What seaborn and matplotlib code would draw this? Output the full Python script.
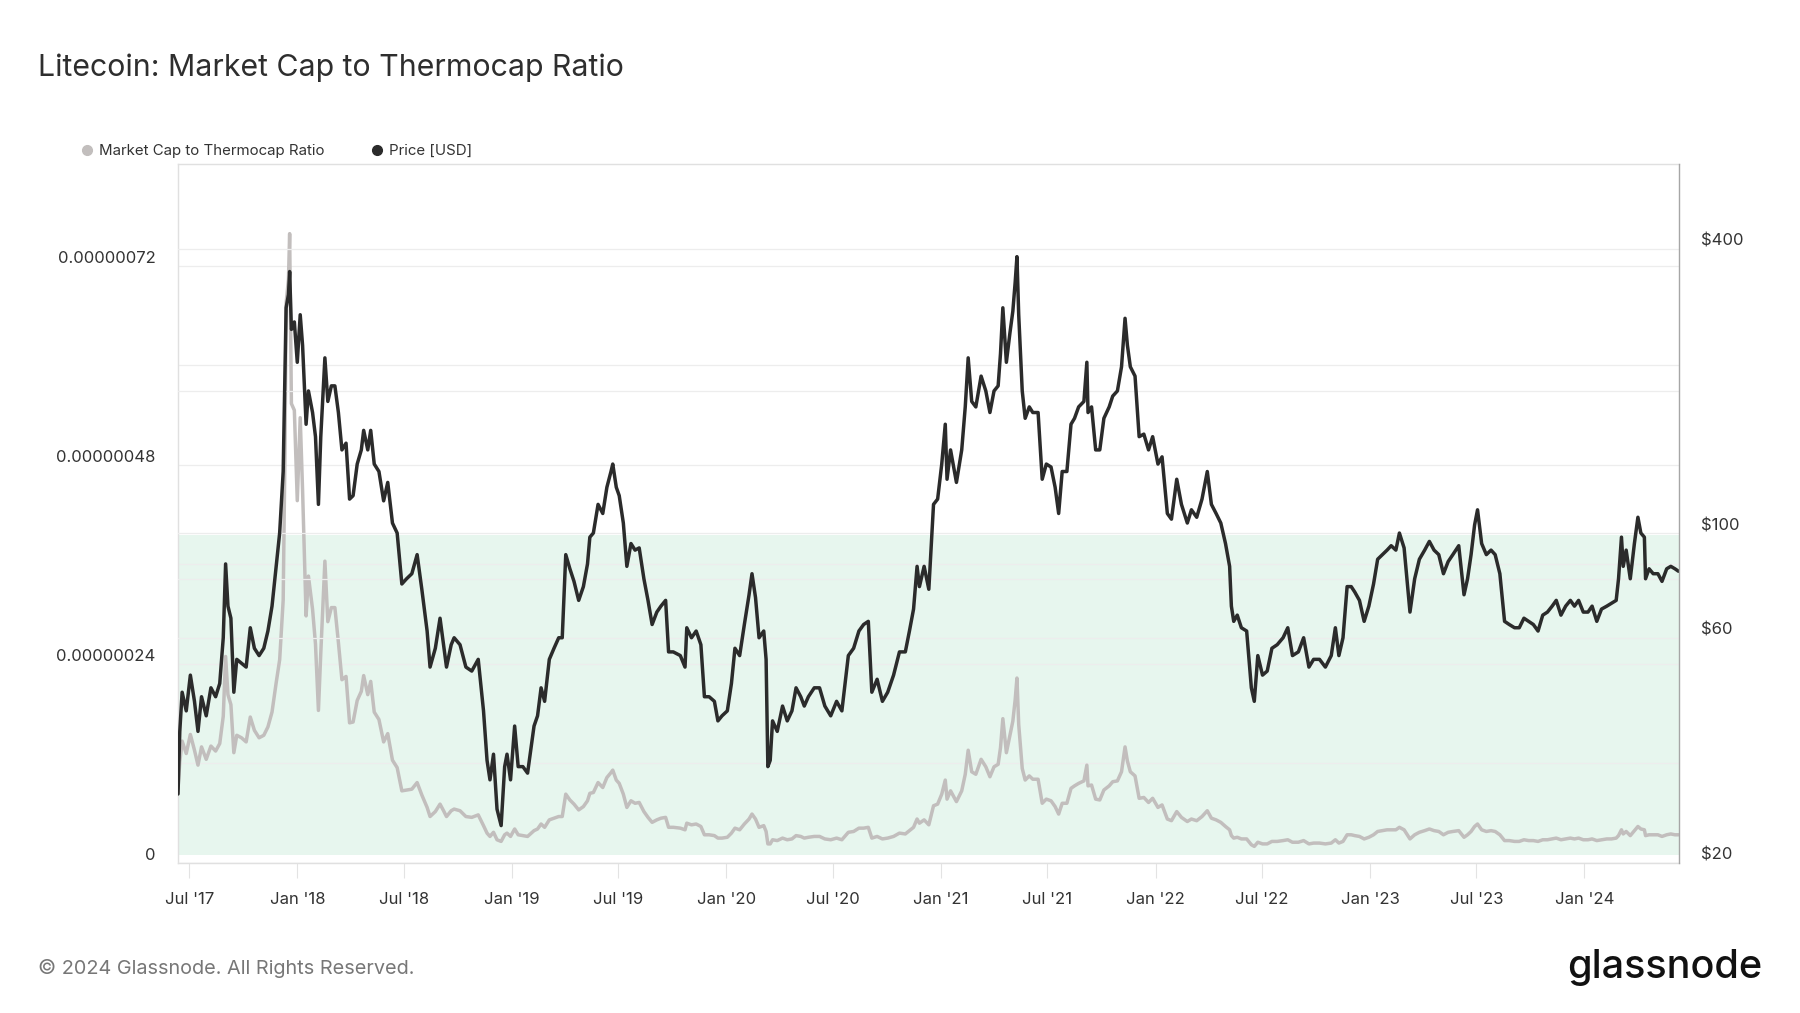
import matplotlib
matplotlib.use("Agg")
import matplotlib.pyplot as plt
import matplotlib.dates as mdates
from matplotlib.lines import Line2D
from matplotlib.ticker import NullLocator
import numpy as np
import pandas as pd
import seaborn as sns

DATES = [
    "2017-06-12", "2017-06-15", "2017-06-19", "2017-06-26",
    "2017-07-03", "2017-07-10", "2017-07-16", "2017-07-22", "2017-07-30",
    "2017-08-07", "2017-08-15", "2017-08-22", "2017-08-28",
    "2017-09-01", "2017-09-05", "2017-09-10", "2017-09-15", "2017-09-20", "2017-09-28",
    "2017-10-06", "2017-10-13", "2017-10-20", "2017-10-28",
    "2017-11-05", "2017-11-12", "2017-11-19", "2017-11-26",
    "2017-12-02", "2017-12-08", "2017-12-11", "2017-12-13", "2017-12-17", "2017-12-19", "2017-12-22", "2017-12-27",
    "2018-01-01", "2018-01-06", "2018-01-10", "2018-01-16", "2018-01-20", "2018-01-27",
    "2018-02-01", "2018-02-06", "2018-02-10", "2018-02-17", "2018-02-22", "2018-02-28",
    "2018-03-06", "2018-03-12", "2018-03-18", "2018-03-25", "2018-03-31",
    "2018-04-06", "2018-04-13", "2018-04-20", "2018-04-24",
    "2018-05-01", "2018-05-06", "2018-05-12", "2018-05-20", "2018-05-28",
    "2018-06-04", "2018-06-12", "2018-06-20", "2018-06-28",
    "2018-07-06", "2018-07-15", "2018-07-24",
    "2018-08-01", "2018-08-10", "2018-08-15", "2018-08-24",
    "2018-09-01", "2018-09-07", "2018-09-12", "2018-09-20", "2018-09-25",
    "2018-10-05", "2018-10-15", "2018-10-25",
    "2018-11-05", "2018-11-14", "2018-11-20", "2018-11-25",
    "2018-12-01", "2018-12-07", "2018-12-14", "2018-12-20", "2018-12-24", "2018-12-30",
    "2019-01-06", "2019-01-12", "2019-01-20", "2019-01-28",
    "2019-02-08", "2019-02-14", "2019-02-20", "2019-02-26",
    "2019-03-06", "2019-03-14", "2019-03-22", "2019-03-28",
    "2019-04-03", "2019-04-10", "2019-04-17", "2019-04-25",
    "2019-05-03", "2019-05-10", "2019-05-14", "2019-05-20", "2019-05-28",
    "2019-06-05", "2019-06-12", "2019-06-19", "2019-06-22", "2019-06-28",
    "2019-07-03", "2019-07-10", "2019-07-16", "2019-07-23", "2019-07-30",
    "2019-08-06", "2019-08-14", "2019-08-21", "2019-08-28",
    "2019-09-05", "2019-09-12", "2019-09-20", "2019-09-25",
    "2019-10-03", "2019-10-15", "2019-10-23", "2019-10-26",
    "2019-11-03", "2019-11-11", "2019-11-19", "2019-11-25",
    "2019-12-03", "2019-12-12", "2019-12-18", "2019-12-25",
    "2020-01-03", "2020-01-10", "2020-01-16", "2020-01-24",
    "2020-02-01", "2020-02-09", "2020-02-14", "2020-02-20", "2020-02-26",
    "2020-03-05", "2020-03-09", "2020-03-12", "2020-03-16", "2020-03-20", "2020-03-28",
    "2020-04-06", "2020-04-14", "2020-04-22", "2020-04-29",
    "2020-05-07", "2020-05-13", "2020-05-20", "2020-05-30",
    "2020-06-08", "2020-06-17", "2020-06-27",
    "2020-07-07", "2020-07-16", "2020-07-27",
    "2020-08-05", "2020-08-14", "2020-08-22", "2020-08-30",
    "2020-09-05", "2020-09-14", "2020-09-23",
    "2020-10-02", "2020-10-12", "2020-10-22",
    "2020-11-01", "2020-11-08", "2020-11-15", "2020-11-21", "2020-11-25",
    "2020-12-03", "2020-12-11", "2020-12-19", "2020-12-26",
    "2021-01-02", "2021-01-08", "2021-01-11", "2021-01-17", "2021-01-27",
    "2021-02-05", "2021-02-11", "2021-02-16", "2021-02-22",
    "2021-03-01", "2021-03-10", "2021-03-18", "2021-03-25",
    "2021-04-01", "2021-04-08", "2021-04-12", "2021-04-16", "2021-04-22", "2021-04-28",
    "2021-05-03", "2021-05-07", "2021-05-10", "2021-05-13", "2021-05-19", "2021-05-24", "2021-05-31",
    "2021-06-06", "2021-06-15", "2021-06-22", "2021-06-29",
    "2021-07-07", "2021-07-14", "2021-07-20", "2021-07-26",
    "2021-08-03", "2021-08-10", "2021-08-16", "2021-08-23",
    "2021-09-01", "2021-09-06", "2021-09-08", "2021-09-14", "2021-09-21", "2021-09-28",
    "2021-10-05", "2021-10-14", "2021-10-20", "2021-10-28",
    "2021-11-04", "2021-11-10", "2021-11-14", "2021-11-19", "2021-11-27",
    "2021-12-04", "2021-12-12", "2021-12-20", "2021-12-27",
    "2022-01-05", "2022-01-12", "2022-01-21", "2022-01-28",
    "2022-02-06", "2022-02-14", "2022-02-24",
    "2022-03-03", "2022-03-12", "2022-03-21", "2022-03-30",
    "2022-04-06", "2022-04-14", "2022-04-22", "2022-04-30",
    "2022-05-07", "2022-05-10", "2022-05-14", "2022-05-20", "2022-05-27",
    "2022-06-05", "2022-06-13", "2022-06-18", "2022-06-24",
    "2022-07-02", "2022-07-10", "2022-07-18", "2022-07-27",
    "2022-08-06", "2022-08-14", "2022-08-22",
    "2022-09-01", "2022-09-10", "2022-09-19", "2022-09-27",
    "2022-10-07", "2022-10-17", "2022-10-27",
    "2022-11-03", "2022-11-09", "2022-11-16", "2022-11-23", "2022-11-30",
    "2022-12-06", "2022-12-14", "2022-12-22", "2022-12-30",
    "2023-01-07", "2023-01-14", "2023-01-22", "2023-01-30",
    "2023-02-06", "2023-02-14", "2023-02-20", "2023-02-28",
    "2023-03-10", "2023-03-18", "2023-03-26",
    "2023-04-04", "2023-04-12", "2023-04-20", "2023-04-28",
    "2023-05-06", "2023-05-14", "2023-05-22",
    "2023-06-01", "2023-06-10", "2023-06-16", "2023-06-22", "2023-06-28",
    "2023-07-03", "2023-07-10", "2023-07-18", "2023-07-26",
    "2023-08-02", "2023-08-10", "2023-08-18", "2023-08-26",
    "2023-09-04", "2023-09-12", "2023-09-20", "2023-09-28",
    "2023-10-06", "2023-10-14", "2023-10-22", "2023-10-30",
    "2023-11-07", "2023-11-14", "2023-11-22", "2023-11-30",
    "2023-12-08", "2023-12-15", "2023-12-22", "2023-12-30",
    "2024-01-07", "2024-01-14", "2024-01-22", "2024-01-30",
    "2024-02-08", "2024-02-16", "2024-02-24", "2024-02-28",
    "2024-03-04", "2024-03-07", "2024-03-12", "2024-03-19", "2024-03-26",
    "2024-04-01", "2024-04-06", "2024-04-12", "2024-04-14", "2024-04-20", "2024-04-27",
    "2024-05-05", "2024-05-12", "2024-05-20", "2024-05-27",
    "2024-06-03", "2024-06-09",
]

PRICE_USD = [
    28, 38, 46, 42,
    50, 44, 38, 45, 41,
    47, 45, 48, 60,
    86, 70, 66, 46, 54, 53,
    52, 63, 57, 55,
    57, 62, 70, 85,
    100, 135, 215, 300, 320, 358, 270, 280,
    230, 290, 250, 170, 200, 180,
    160, 115, 160, 235, 190, 205,
    205, 180, 150, 155, 118,
    120, 140, 150, 165,
    150, 165, 140, 135, 117,
    128, 105, 100, 78,
    80, 82, 90,
    76, 62, 52, 57,
    66, 58, 52, 58, 60,
    58, 52, 51,
    54, 42, 33, 30,
    34, 26, 24, 32, 34, 30,
    39, 32, 32, 31,
    39, 41, 47, 44,
    54, 57, 60, 60,
    90, 84, 79, 72,
    77, 86, 98, 100, 115,
    110, 125, 135, 140, 125,
    120, 105, 85, 95, 92,
    93, 80, 72, 64,
    68, 70, 72, 56,
    56, 55, 52, 63,
    60, 62, 58, 45,
    45, 44, 40, 41,
    42, 48, 57, 55,
    64, 74, 82, 73, 60,
    62, 54, 32, 33, 40, 38,
    43, 40, 42, 47,
    45, 43, 45, 47,
    47, 43, 41,
    44, 42, 55,
    57, 62, 64, 65,
    46, 49, 44,
    46, 50, 56,
    56, 62, 69, 85, 77,
    85, 76, 115, 118,
    140, 170, 130, 150, 128,
    150, 185, 235, 190,
    185, 215, 200, 180,
    200, 205, 240, 300, 230, 265,
    295, 340, 385, 290, 200, 175, 185,
    180, 180, 130, 140,
    138, 125, 110, 135,
    135, 170, 175, 185,
    190, 230, 180, 185, 150, 150,
    175, 185, 195, 200,
    225, 285, 250, 225, 215,
    160, 162, 150, 160,
    140, 145, 110, 107,
    130, 115, 105,
    112, 108, 118, 135,
    115, 110, 105, 95,
    85, 70, 65, 67, 63,
    62, 47, 44, 55,
    50, 51, 57, 58,
    60, 63, 55,
    56, 60, 52, 54,
    54, 52, 55,
    63, 55, 60, 77, 77,
    75, 72, 65, 70,
    78, 88, 90, 92,
    94, 92, 100, 93,
    68, 80, 88,
    92, 96, 92, 90,
    82, 87, 90,
    94, 74, 80, 90, 104,
    112, 95, 90, 92,
    90, 82, 65, 64,
    63, 63, 66, 65,
    64, 62, 67, 68,
    70, 72, 67, 70,
    72, 70, 72, 68,
    68, 70, 65, 69,
    70, 71, 72, 80,
    98, 85, 92, 80, 95,
    108, 100, 98, 80, 84, 82,
    82, 79, 84, 85,
    84, 83,
]

# market cap / thermocap, in units of 1e-9
RATIO_E9 = [
    90, 122, 147, 132,
    155, 136, 118, 140, 125,
    141, 135, 144, 177,
    249, 203, 191, 133, 154, 151,
    146, 176, 160, 151,
    154, 164, 182, 217,
    245, 317, 495, 675, 704, 759, 554, 546,
    437, 537, 450, 298, 346, 306,
    264, 184, 253, 364, 291, 308,
    308, 266, 221, 225, 169,
    170, 196, 207, 226,
    203, 219, 182, 173, 146,
    156, 124, 115, 87,
    88, 89, 97,
    82, 67, 56, 62,
    71, 63, 56, 63, 65,
    63, 56, 55,
    58, 45, 36, 32,
    37, 28, 26, 34, 36, 32,
    41, 34, 33, 32,
    39, 41, 47, 43,
    52, 54, 56, 56,
    83, 76, 71, 64,
    68, 75, 84, 85, 97,
    91, 103, 109, 112, 100,
    96, 83, 67, 75, 72,
    73, 62, 55, 49,
    52, 54, 55, 43,
    43, 42, 40, 48,
    46, 47, 44, 34,
    34, 33, 30, 30,
    31, 36, 42, 40,
    47, 53, 59, 53, 43,
    45, 38, 23, 23, 28, 27,
    30, 28, 29, 33,
    32, 30, 31, 32,
    32, 29, 28,
    30, 28, 37,
    38, 42, 42, 43,
    30, 32, 29,
    30, 32, 36,
    35, 39, 43, 53, 48,
    52, 46, 69, 71,
    83, 100, 77, 87, 74,
    87, 107, 136, 110,
    107, 125, 116, 104,
    116, 119, 139, 174, 133, 154,
    171, 197, 223, 167, 114, 100, 105,
    101, 101, 72, 77,
    75, 68, 59, 72,
    72, 90, 93, 96,
    99, 118, 93, 94, 77, 76,
    88, 93, 98, 99,
    110, 140, 123, 110, 105,
    78, 79, 73, 78,
    67, 70, 53, 51,
    62, 55, 50,
    53, 51, 56, 63,
    54, 52, 49, 44,
    40, 33, 30, 31, 29,
    29, 22, 20, 25,
    23, 23, 26, 26,
    27, 28, 25,
    25, 27, 23, 24,
    24, 23, 24,
    28, 24, 26, 34, 34,
    33, 32, 29, 31,
    34, 38, 39, 40,
    40, 40, 43, 40,
    29, 34, 37,
    39, 41, 39, 38,
    34, 37, 38,
    39, 31, 34, 38, 44,
    47, 40, 38, 39,
    38, 34, 27, 27,
    26, 26, 28, 27,
    27, 26, 28, 28,
    29, 30, 28, 29,
    30, 29, 30, 28,
    28, 29, 27, 28,
    29, 29, 30, 33,
    40, 35, 38, 33, 39,
    44, 41, 40, 33, 34, 34,
    34, 32, 34, 35,
    34, 34,
]

LEFT_TICKS = [0, 0.12e-6, 0.24e-6, 0.36e-6, 0.48e-6, 0.60e-6, 0.72e-6]
LEFT_LABELS = ["0", "", "0.00000024", "", "0.00000048", "", "0.00000072"]
RIGHT_TICKS = [20, 60, 80, 100, 200, 400]
RIGHT_LABELS = ["$20", "$60", "", "$100", "", "$400"]
LEGEND_LABELS = ["Market Cap to Thermocap Ratio", "Price [USD]"]

RATIO_COLOR = "#c2bebd"
PRICE_COLOR = "#2b2b2b"
BAND_COLOR = "#e7f6ee"
GRID_COLOR = "#ededed"
TEXT_COLOR = "#333333"


def build_frame():
    """
    Puts the sampled series into one data frame for seaborn.
    """
    data = pd.DataFrame({
        "date": pd.to_datetime(DATES),
        "price": PRICE_USD,
        "ratio": np.array(RATIO_E9) * 1e-9,
    })
    return data


def plot(data):
    """
    Draws the ratio on the left axis and the price on a log right axis.
    """
    fig = plt.figure(figsize=(18, 10.13), dpi=100)
    ax = fig.add_axes([0.0989, 0.1481, 0.8339, 0.6900])

    # green "low ratio" zone
    ax.axhspan(0.0096e-6, 0.396e-6, color=BAND_COLOR, lw=0, zorder=0)
    sns.lineplot(data=data, x="date", y="ratio", ax=ax, color=RATIO_COLOR,
                 linewidth=2.5, estimator=None)
    ax.set_ylim(0, 0.843e-6)
    ax.set_xlim(pd.Timestamp("2017-06-12"), pd.Timestamp("2024-06-10"))
    ax.set_yticks(LEFT_TICKS, LEFT_LABELS)
    ax.set_axisbelow(True)
    ax.yaxis.grid(True, color=GRID_COLOR, lw=0.9)
    ax.xaxis.grid(False)

    ax2 = ax.twinx()
    ax2.set_yscale("log")
    sns.lineplot(data=data, x="date", y="price", ax=ax2, color=PRICE_COLOR,
                 linewidth=2.5, estimator=None)
    ax2.set_ylim(20, 605)
    ax2.set_yticks(RIGHT_TICKS, RIGHT_LABELS)
    ax2.yaxis.set_minor_locator(NullLocator())
    ax2.yaxis.grid(True, color=GRID_COLOR, lw=0.9)

    # x axis
    ax.set_xticks(pd.date_range("2017-07-01", "2024-01-01", freq="6MS"))
    ax.xaxis.set_major_formatter(mdates.DateFormatter("%b '%y"))
    ax.tick_params(axis="x", bottom=True, length=11, width=0.8,
                   color="#e3e3e3", pad=10, labelsize=12,
                   labelcolor=TEXT_COLOR)
    ax.tick_params(axis="y", left=False, length=0, pad=16, labelsize=12,
                   labelcolor=TEXT_COLOR)
    ax2.tick_params(axis="y", right=False, length=0, pad=16, labelsize=12,
                    labelcolor=TEXT_COLOR)
    plt.setp(ax.get_yticklabels(), va="bottom")
    plt.setp(ax2.get_yticklabels(), va="bottom")
    for a in (ax, ax2):
        a.set_xlabel("")
        a.set_ylabel("")

    for side in ["left", "bottom", "top"]:
        ax.spines[side].set_color("#e0e0e0")
        ax.spines[side].set_linewidth(1)
        ax2.spines[side].set_visible(False)
    ax.spines["right"].set_visible(False)
    ax2.spines["right"].set_color("#a6a6a6")
    ax2.spines["right"].set_linewidth(1)

    # legend above the plot
    handles = [Line2D([], [], marker="o", ls="", color=RATIO_COLOR,
                      markersize=7),
               Line2D([], [], marker="o", ls="", color=PRICE_COLOR,
                      markersize=7)]
    fig.legend(handles, LEGEND_LABELS, loc="center left",
               bbox_to_anchor=(0.0439, 0.8506), ncol=2, frameon=False,
               fontsize=10.8, handlelength=1.0, handletextpad=0.3,
               columnspacing=3.0, borderpad=0, borderaxespad=0,
               labelcolor=TEXT_COLOR)

    fig.text(0.0211, 0.9333, "Litecoin: Market Cap to Thermocap Ratio",
             fontsize=21.8, color="#2e2e2e", va="center", ha="left")
    fig.text(0.0211, 0.0444, "© 2024 Glassnode. All Rights Reserved.",
             fontsize=14.3, color="#777777", va="center", ha="left")
    fig.text(0.9789, 0.0454, "glassnode", fontsize=28.5, color="#111111",
             va="center", ha="right", fontweight="medium")
    fig.savefig("out.png", dpi=100)


def main():
    sns.set_theme(style="white")
    plt.rcParams["font.family"] = ["Inter", "DejaVu Sans"]
    data = build_frame()
    plot(data)


if __name__ == "__main__":
    main()
